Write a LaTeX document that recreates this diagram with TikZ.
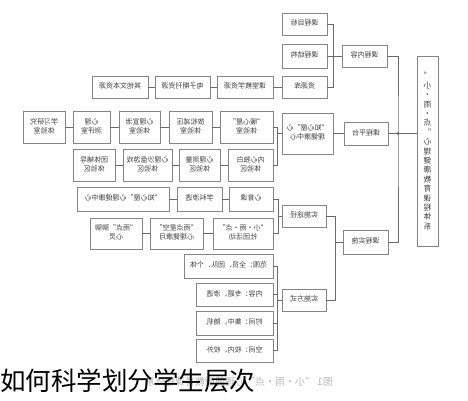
\documentclass[tikz,border=0pt]{standalone}
\usepackage{fontspec}
\setmainfont{Noto Sans CJK SC}
\definecolor{boxgray}{HTML}{858585}
\definecolor{linegray}{HTML}{6A6A6A}
\definecolor{txtgray}{HTML}{404040}
\newcommand{\mt}[1]{\reflectbox{\begin{tabular}{@{}c@{}}#1\end{tabular}}}
\renewcommand{\arraystretch}{1.1}
\tikzset{
  bx/.style={draw=boxgray, line width=0.9pt, fill=white, inner sep=0pt, text=txtgray, font=\fontsize{7}{8}\selectfont},
  ln/.style={draw=linegray, line width=0.9pt}
}
\newcommand{\bxn}[6]{\node[bx, minimum width={(#4-#2)*1pt}, minimum height={(#5-#3)*1pt}] (#1) at ({(#2+#4)/2},{(#3+#5)/2}) {\mt{#6}};}
\begin{document}
\begin{tikzpicture}[x=1pt,y=-1pt]
\useasboundingbox (0,0) rectangle (468,400);
\fill[white] (0,0) rectangle (468,400);
% top branch
\bxn{g1}{282}{13}{327}{35}{课程目标}
\bxn{g2}{282}{44}{327}{68}{课程结构}
\bxn{g3}{282}{76}{327}{98}{资源库}
\bxn{r1}{217}{76}{273}{98}{课堂教学资源}
\bxn{r2}{155}{76}{210}{98}{电子期刊资源}
\bxn{r3}{92}{76}{148}{98}{其他文本资源}
\bxn{k1}{342}{45}{387}{67}{课程内容}
\bxn{k2}{344}{122}{388}{145}{课程平台}
\bxn{k3}{343}{230}{388}{254}{课程实施}
% middle branch
\bxn{m0}{282}{113}{333}{154}{“知心屋”心\\理健康中心}
\bxn{a5}{220}{111}{273}{143}{“暖心屋”\\体验室}
\bxn{a4}{169}{111}{212}{143}{放松减压\\体验室}
\bxn{a3}{119}{111}{160}{143}{心理宣泄\\体验室}
\bxn{a2}{73}{111}{110}{143}{心理\\测评室}
\bxn{a1}{23}{111}{65}{143}{学习研究\\体验室}
\bxn{b4}{228}{149}{273}{181}{内心独白\\体验区}
\bxn{b3}{179}{149}{220}{181}{心理测量\\体验区}
\bxn{b2}{123}{149}{172}{181}{心理沙盘游戏\\体验区}
\bxn{b1}{73}{149}{115}{181}{团体辅导\\体验区}
% bottom branch
\bxn{p1}{282}{205}{326}{227}{实施途径}
\bxn{p2}{282}{289}{326}{311}{实施方式}
\bxn{c1}{229}{187}{273}{211}{心育课}
\bxn{c2}{177}{187}{222}{211}{学科渗透}
\bxn{c3}{77}{187}{169}{211}{“知心屋”心理健康中心}
\bxn{d1}{213}{218}{273}{249}{“小·雨·点”\\社团活动}
\bxn{d2}{150}{218}{203}{249}{“雨点星空”\\心理健康月}
\bxn{d3}{90}{218}{142}{249}{“雨点”聊聊\\心灵}
\bxn{e1}{184}{254}{273}{278}{范围：全员、团队、个体}
\bxn{e2}{196}{283}{273}{306}{内容：专题、渗透}
\bxn{e3}{196}{311}{273}{335}{时间：集中、随机}
\bxn{e4}{196}{339}{273}{362}{空间：校内、校外}
% big box
\node[bx, minimum width=21pt, minimum height=190pt] (big) at (427.5,151)
  {\reflectbox{\parbox{9pt}{\centering\fontsize{7.8}{9.4}\selectfont “\\小\\·\\雨\\·\\点\\”\\心\\理\\健\\康\\教\\育\\课\\程\\体\\系}}};
% connectors top
\draw[ln] (g1.east) -- ++(6,0) |- (g3.east);
\draw[ln] (g2.east) -- (k1.west);
\draw[ln] (g3) -- (r1) -- (r2) -- (r3);
% spine
\coordinate (sp) at (398,133.5);
\draw[ln] (k1.east) -| (sp) |- (k3.east);
\draw[ln] (k2.east) -- (sp) -- (sp -| big.west);
\fill[linegray] (sp) circle (1.6pt);
% middle
\draw[ln] (m0.east) -- (k2.west);
\draw[ln] (a5.east) -- ++(4,0) |- (b4.east);
\draw[ln] (m0.west) -- ++(-5,0);
\draw[ln] (a1) -- (a2) -- (a3) -- (a4) -- (a5);
\draw[ln] (b1) -- (b2) -- (b3) -- (b4);
% bottom
\draw[ln] (p1.east) -- ++(9,0) |- (p2.east);
\draw[ln] (k3.west) -- ++(-8,0);
\draw[ln] (c1.east) -- ++(5,0) |- (d1.east);
\draw[ln] (p1.west) -- ++(-4,0);
\draw[ln] (c1) -- (c2) -- (c3);
\draw[ln] (d1) -- (d2) -- (d3);
\draw[ln] (e1.east) -- ++(4,0) |- (e4.east);
\draw[ln] (e2.east) -- ++(4,0);
\draw[ln] (e3.east) -- ++(4,0);
\draw[ln] (p2.west) -- ++(-5,0);
% captions
\node[anchor=east, inner sep=0pt, text=gray!55, font=\fontsize{10}{10}\selectfont] (cap2) at (333,382) {\reflectbox{图1 “小·雨·点”心理健康教育课程体系}};
\node[anchor=west, inner sep=0pt, font=\fontsize{25.5}{25.5}\selectfont] (cap) at (0,381) {如何科学划分学生层次};
\end{tikzpicture}
\end{document}
